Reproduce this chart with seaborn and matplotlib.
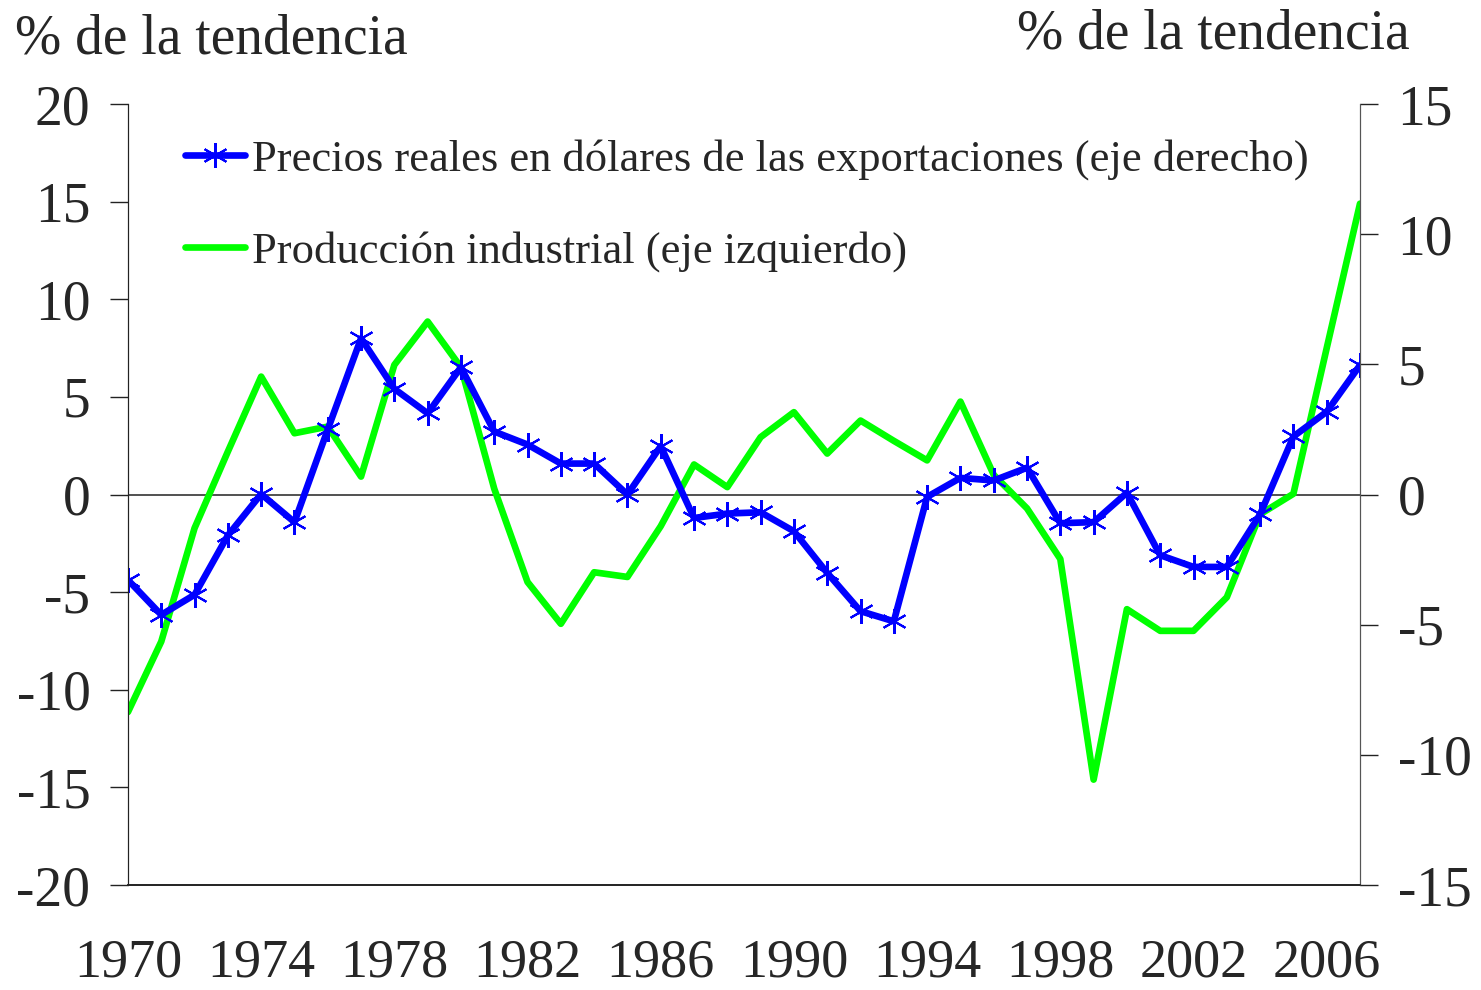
import numpy as np
import pandas as pd
import matplotlib
matplotlib.use("Agg")
import matplotlib.pyplot as plt
import seaborn as sns

# data
years = list(range(1970, 2008))
precios = [-3.28, -4.62, -3.85, -1.57, 0.02, -1.06, 2.5, 6.0, 4.06, 3.12,
           4.89, 2.42, 1.92, 1.19, 1.19, 0.0, 1.86, -0.9, -0.73, -0.68,
           -1.41, -3.01, -4.48, -4.87, -0.09, 0.64, 0.54, 1.03, -1.1, -1.06,
           0.07, -2.33, -2.78, -2.78, -0.76, 2.23, 3.18, 4.97]
produccion = [-11.14, -7.53, -1.72, 2.2, 6.04, 3.14, 3.48, 0.92, 6.64, 8.86,
              6.52, 0.3, -4.48, -6.62, -3.98, -4.22, -1.62, 1.54, 0.38, 2.94,
              4.22, 2.1, 3.79, 2.75, 1.75, 4.76, 1.01, -0.71, -3.3, -14.6,
              -5.87, -6.98, -6.98, -5.26, -1.01, 0.04, 7.5, 14.9]
label_years = [1970, 1974, 1978, 1982, 1986, 1990, 1994, 1998, 2002, 2006]
left_ticks = [20, 15, 10, 5, 0, -5, -10, -15, -20]
right_ticks = [15, 10, 5, 0, -5, -10, -15]

df = pd.DataFrame({"year": years, "precios": precios, "produccion": produccion})

sns.set_style("white")
plt.rcParams["font.family"] = ["Liberation Serif", "DejaVu Serif"]

fig = plt.figure(figsize=(14.81, 9.9), dpi=100)
ax = fig.add_axes([0.0864, 0.106, 0.8319, 0.7889])
ax2 = ax.twinx()

sns.lineplot(data=df, x="year", y="produccion", ax=ax, color="#00ff00", lw=4.8,
             solid_capstyle="round",
             label="Producción industrial (eje izquierdo)", legend=False)
sns.lineplot(data=df, x="year", y="precios", ax=ax2, color="#0000ff", lw=4.8,
             solid_capstyle="round",
             marker=(6, 2, 0), markersize=18, markeredgewidth=1.5,
             markeredgecolor="#0000ff",
             label="Precios reales en dólares de las exportaciones (eje derecho)",
             legend=False)

ax.axhline(0, color="#333333", lw=1.2, zorder=0)

ax.set_xlim(1970, 2007)
ax.set_ylim(-20, 20)
ax2.set_ylim(-15, 15)
ax.set_yticks(left_ticks)
ax.set_yticklabels([str(v) for v in left_ticks])
ax2.set_yticks(right_ticks)
ax2.set_yticklabels([str(v) for v in right_ticks])
ax.set_xticks(years)
ax.set_xticklabels([str(y) if y in label_years else "" for y in years])
ax.set_xlabel("")
ax.set_ylabel("")
ax2.set_xlabel("")
ax2.set_ylabel("")

ax.tick_params(axis="x", direction="in", length=18, width=1, color="#222222",
               labelsize=39, pad=38)
ax.tick_params(axis="y", direction="out", length=13, width=1, color="#222222",
               labelsize=40, pad=14, left=True)
ax2.tick_params(axis="y", direction="out", length=13, width=1, color="#222222",
                labelsize=40, pad=14, right=True)

for a in (ax, ax2):
    a.spines["top"].set_visible(False)
    a.spines["left"].set_color("#222222")
    a.spines["right"].set_color("#555555")
    a.spines["bottom"].set_color("#222222")
    a.spines["bottom"].set_linewidth(1.2)

fig.text(0.01, 0.96, "% de la tendencia", fontsize=40, ha="left", va="center")
fig.text(0.952, 0.965, "% de la tendencia", fontsize=40, ha="right", va="center")

h1, l1 = ax2.get_legend_handles_labels()
h2, l2 = ax.get_legend_handles_labels()
ax2.legend(h1 + h2, l1 + l2, loc="upper left", bbox_to_anchor=(0.046, 0.955),
           frameon=False, fontsize=32, handlelength=1.35, handletextpad=0.16,
           labelspacing=1.15, borderpad=0, borderaxespad=0)

fig.savefig("out.png", dpi=100, facecolor="white")
